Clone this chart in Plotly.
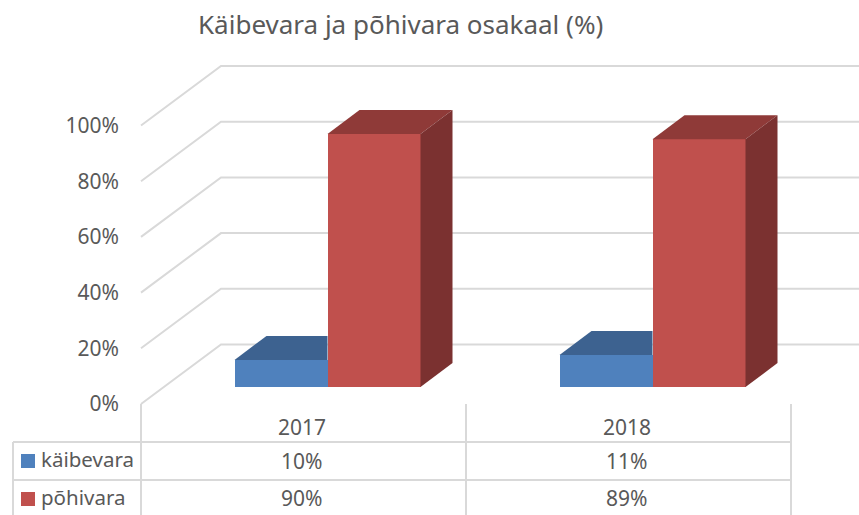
import plotly.graph_objects as go

# --- data ---
categories = ["2017", "2018"]
kaibevara_values = [9.7, 11.5]
pohivara_values = [90.8, 89.0]
kaibevara_labels = ["10%", "11%"]
pohivara_labels = ["90%", "89%"]
series_names = ["käibevara", "põhivara"]
y_ticks = [0, 20, 40, 60, 80, 100]
y_tick_labels = ["0%", "20%", "40%", "60%", "80%", "100%"]
title_text = "Käibevara ja põhivara osakaal (%)"

# --- geometry / style ---
W, H = 859, 515
X0_PX, Y0_PX = 141.0, 404.0      # pixel of category origin / 0%
CAT_PX = 325.0                   # px per category
Y_PX = 2.785                     # px per percent
FONT = "Noto Sans"
TXT = "#595959"
GRID = "#d9d9d9"
BLUE, BLUE_TOP = "#4f81bd", "#3d6290"
RED, RED_TOP, RED_SIDE = "#c0504d", "#8f3a38", "#7b3130"

def ux(px):  # px -> x data
    return (px - X0_PX) / CAT_PX
def uy(py):  # px -> y data
    return (Y0_PX - py) / Y_PX

BAR_W = 93.0 / CAT_PX
BAR_L = 93.5 / CAT_PX - 0.5      # blue bar left, relative to category centre
BASE = 17.0 / Y_PX               # bar floor
DX, DY = 32.0 / CAT_PX, 24.0 / Y_PX   # bar depth
WALL_DX, WALL_DY = 80.0 / CAT_PX, 59.5 / Y_PX   # chart depth

centres = [i + 0.5 for i in range(len(categories))]

fig = go.Figure()

# front faces
fig.add_trace(go.Bar(x=centres, y=kaibevara_values, base=BASE, width=BAR_W, offset=BAR_L,
                     marker=dict(color=BLUE, line_width=0), name=series_names[0], showlegend=False))
fig.add_trace(go.Bar(x=centres, y=pohivara_values, base=BASE, width=BAR_W, offset=BAR_L + BAR_W,
                     marker=dict(color=RED, line_width=0), name=series_names[1], showlegend=False))

def poly(xs, ys, color):
    fig.add_trace(go.Scatter(x=xs, y=ys, mode="lines", fill="toself", fillcolor=color,
                             line=dict(width=0, color=color), hoverinfo="skip", showlegend=False))

# depth faces
for c, a, b in zip(centres, kaibevara_values, pohivara_values):
    l = c + BAR_L
    m = l + BAR_W
    r = m + BAR_W
    ta, tb = BASE + a, BASE + b
    # blue top, hidden by the red bar on the right
    poly([l, l + DX, m, m, l], [ta, ta + DY, ta + DY, ta, ta], BLUE_TOP)
    # red top
    poly([m, m + DX, r + DX, r, m], [tb, tb + DY, tb + DY, tb, tb], RED_TOP)
    # red side
    poly([r, r + DX, r + DX, r, r], [tb, tb + DY, BASE + DY, BASE, tb], RED_SIDE)

# gridlines on side and back wall, below the marks
LINE_W = 2
shapes = []
x_end = ux(W + 5)
for v in y_ticks:
    shapes.append(dict(type="path", layer="below", xref="x", yref="y",
                       path=f"M 0 {v} L {WALL_DX} {v + WALL_DY} L {x_end} {v + WALL_DY}",
                       line=dict(color=GRID, width=LINE_W)))

# data table rules
row1, row2, row3 = uy(442), uy(480), uy(517)
for xv in range(len(categories) + 1):
    shapes.append(dict(type="line", layer="below", xref="x", yref="y", x0=xv, x1=xv,
                       y0=0, y1=row3, line=dict(color=GRID, width=LINE_W)))
shapes.append(dict(type="line", layer="below", xref="x", yref="y", x0=ux(13), x1=ux(13),
                   y0=row1, y1=row3, line=dict(color=GRID, width=LINE_W)))
for rv in (row1, row2):
    shapes.append(dict(type="line", layer="below", xref="x", yref="y", x0=ux(13),
                       x1=len(categories), y0=rv, y1=rv, line=dict(color=GRID, width=LINE_W)))

# legend keys in the table
fig.add_trace(go.Scatter(x=[ux(28)], y=[uy(461)], mode="markers", hoverinfo="skip", showlegend=False,
                         marker=dict(symbol="square", size=14, color=BLUE)))
fig.add_trace(go.Scatter(x=[ux(28)], y=[uy(499)], mode="markers", hoverinfo="skip", showlegend=False,
                         marker=dict(symbol="square", size=14, color=RED)))

# table text
ann = []
def text(x, y, s, anchor="center", size=21):
    ann.append(dict(x=x, y=y, xref="x", yref="y", text=s, showarrow=False, xanchor=anchor,
                    yanchor="middle", align=anchor, font=dict(family=FONT, size=size, color=TXT)))
for c, cat, a, b in zip(centres, categories, kaibevara_labels, pohivara_labels):
    text(c - 0.005, uy(427), cat)
    text(c - 0.005, uy(461), a)
    text(c - 0.005, uy(498), b)
text(ux(39), uy(459), series_names[0], "left", size=20.5)
text(ux(39), uy(497), series_names[1], "left", size=20.5)
text(ux(400.5), uy(24), title_text, size=26)

fig.update_layout(
    width=W, height=H, autosize=False,
    margin=dict(l=0, r=0, t=0, b=0),
    paper_bgcolor="white", plot_bgcolor="white",
    barmode="overlay", bargap=0,
    shapes=shapes, annotations=ann, showlegend=False,
    xaxis=dict(range=[ux(0), ux(W)], visible=False, showgrid=False, zeroline=False, fixedrange=True),
    yaxis=dict(range=[uy(H), uy(0)], anchor="free", position=X0_PX / W, side="left",
               showgrid=False, zeroline=False, showline=False, ticks="",
               tickmode="array", tickvals=y_ticks, ticktext=y_tick_labels,
               ticklabelstandoff=22, fixedrange=True,
               tickfont=dict(family=FONT, size=21, color=TXT)),
)

fig.write_html("out.html", config={"displayModeBar": False},
               post_script="document.body.style.margin='0';")
